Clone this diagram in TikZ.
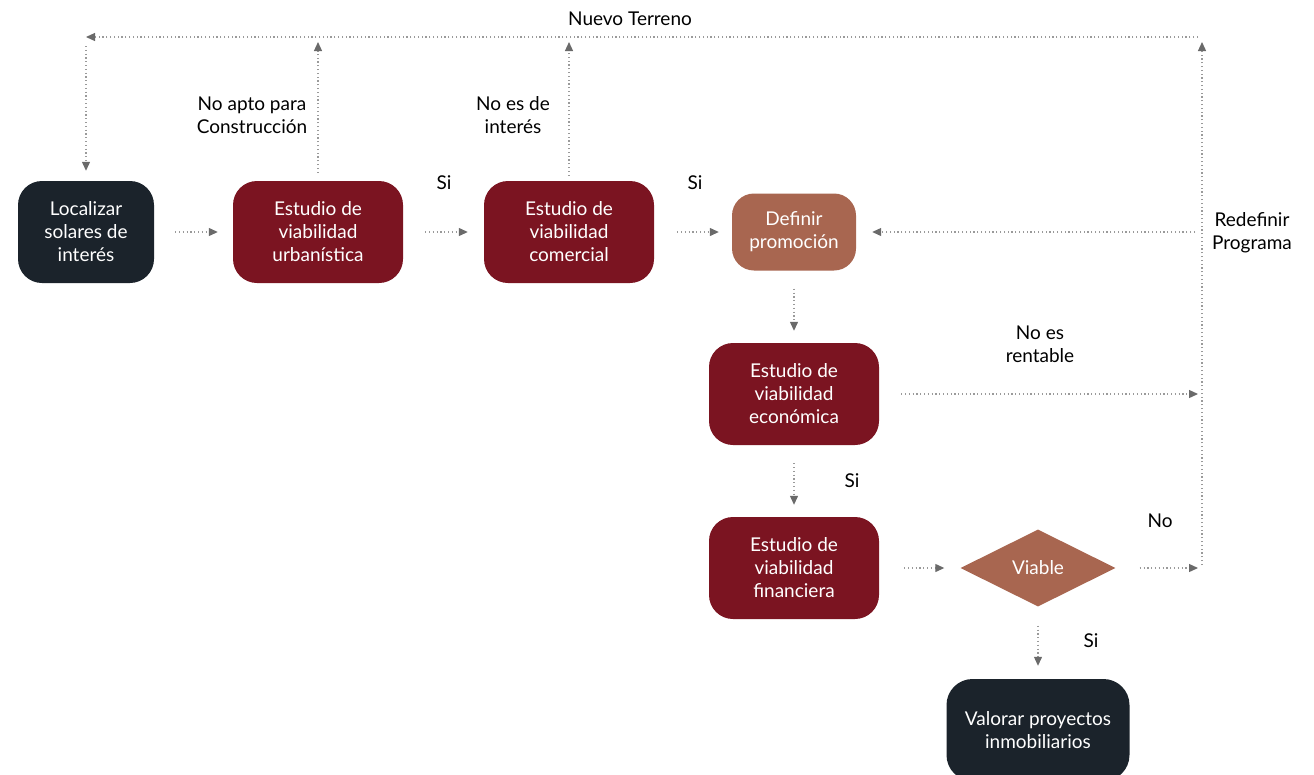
\documentclass[tikz,border=0pt]{standalone}
\usepackage{fontspec}
\setmainfont{Lato}
\usetikzlibrary{arrows.meta,shapes.geometric,calc}
\definecolor{navy}{HTML}{1B232B}
\definecolor{wine}{HTML}{7B1421}
\definecolor{clay}{HTML}{A86650}
\definecolor{dotgray}{HTML}{9A9A9A}
\definecolor{tipgray}{HTML}{6A6A6A}
\begin{document}
\begin{tikzpicture}[x=1pt,y=-1pt,
  txt/.style={font=\fontsize{19}{23}\selectfont, align=center, inner sep=0pt},
  box/.style={txt, text=white, rounded corners=24pt, minimum width=170pt, minimum height=102pt},
  stage/.style={box, fill=wine},
  endpoint/.style={box, fill=navy},
  flow/.style={draw=dotgray, line width=1.2pt, dash pattern=on 1.2pt off 2.6pt,
    -{Triangle[length=9pt,width=8pt,color=tipgray]}},
  lbl/.style={txt, text=black}
]
\useasboundingbox (0,0) rectangle (1314,774);

% process steps
\node[endpoint, minimum width=136pt] (loc) at (86,232) {Localizar\\solares de\\interés};
\node[stage] (urb) at (318,232) {Estudio de\\viabilidad\\urbanística};
\node[stage] (com) at (569,232) {Estudio de\\viabilidad\\comercial};
\node[box, fill=clay, minimum width=124pt, minimum height=77pt, rounded corners=22pt] (def) at (794,232) {Definir\\promoción};
\node[stage] (eco) at (794,394) {Estudio de\\viabilidad\\económica};
\node[stage] (fin) at (794,568) {Estudio de\\viabilidad\\financiera};
\node[txt, text=white, shape=diamond, fill=clay, minimum width=155pt, minimum height=77pt] (via) at (1038,568) {Viable};
\node[endpoint, minimum width=183pt, rounded corners=26pt] (val) at (1038,730) {Valorar proyectos\\inmobiliarios};

% routing corners
\coordinate (tl) at (86,37);
\coordinate (tr) at (1202,37);
\coordinate (r1) at (1202,232);
\coordinate (r2) at (1202,394);
\coordinate (r3) at (1202,568);

% main flow
\draw[flow, shorten <=21pt, shorten >=15pt] (loc) -- (urb);
\draw[flow, shorten <=22pt, shorten >=16pt] (urb) -- (com);
\draw[flow, shorten <=23pt, shorten >=13pt] (com) -- (def);
\draw[flow, shorten <=18pt, shorten >=12pt] (def) -- (eco);
\draw[flow, shorten <=18pt, shorten >=12pt] (eco) -- (fin);
\draw[flow, shorten <=25pt, shorten >=16pt] (fin) -- (via);
\draw[flow, shorten <=19pt, shorten >=13pt] (via) -- (val);

% feedback loops
\draw[flow, shorten <=22pt, shorten >=4pt] (eco) -- (r2);
\draw[flow, shorten <=24pt, shorten >=4pt] (via) -- (r3);
\draw[flow, shorten <=3pt, shorten >=5pt] (r3) -- (tr);
\draw[flow, shorten <=7pt, shorten >=16pt] (r1) -- (def);
\draw[flow, shorten <=4pt, shorten >=0pt] (tr) -- (tl);
\draw[flow, shorten <=9pt, shorten >=10pt] (tl) -- (loc);
\draw[flow, shorten <=8pt, shorten >=5pt] (urb) -- (urb.north |- tr);
\draw[flow, shorten <=5pt, shorten >=5pt] (com) -- (com.north |- tr);

% labels
\node[lbl] (nt) at (630,19) {Nuevo Terreno};
\node[lbl] (napto) at (252,115) {No apto para\\Construcción};
\node[lbl] (nint) at (513,115) {No es de\\interés};
\node[lbl] (si1) at (444,183) {Si};
\node[lbl] (si2) at (695,183) {Si};
\node[lbl] (redef) at (1252,233) {Redefinir\\Programa};
\node[lbl] (nrent) at (1040,344) {No es\\rentable};
\node[lbl] (si3) at (852,481) {Si};
\node[lbl] (no1) at (1160,521) {No};
\node[lbl] (si4) at (1091,641) {Si};
\end{tikzpicture}
\end{document}
